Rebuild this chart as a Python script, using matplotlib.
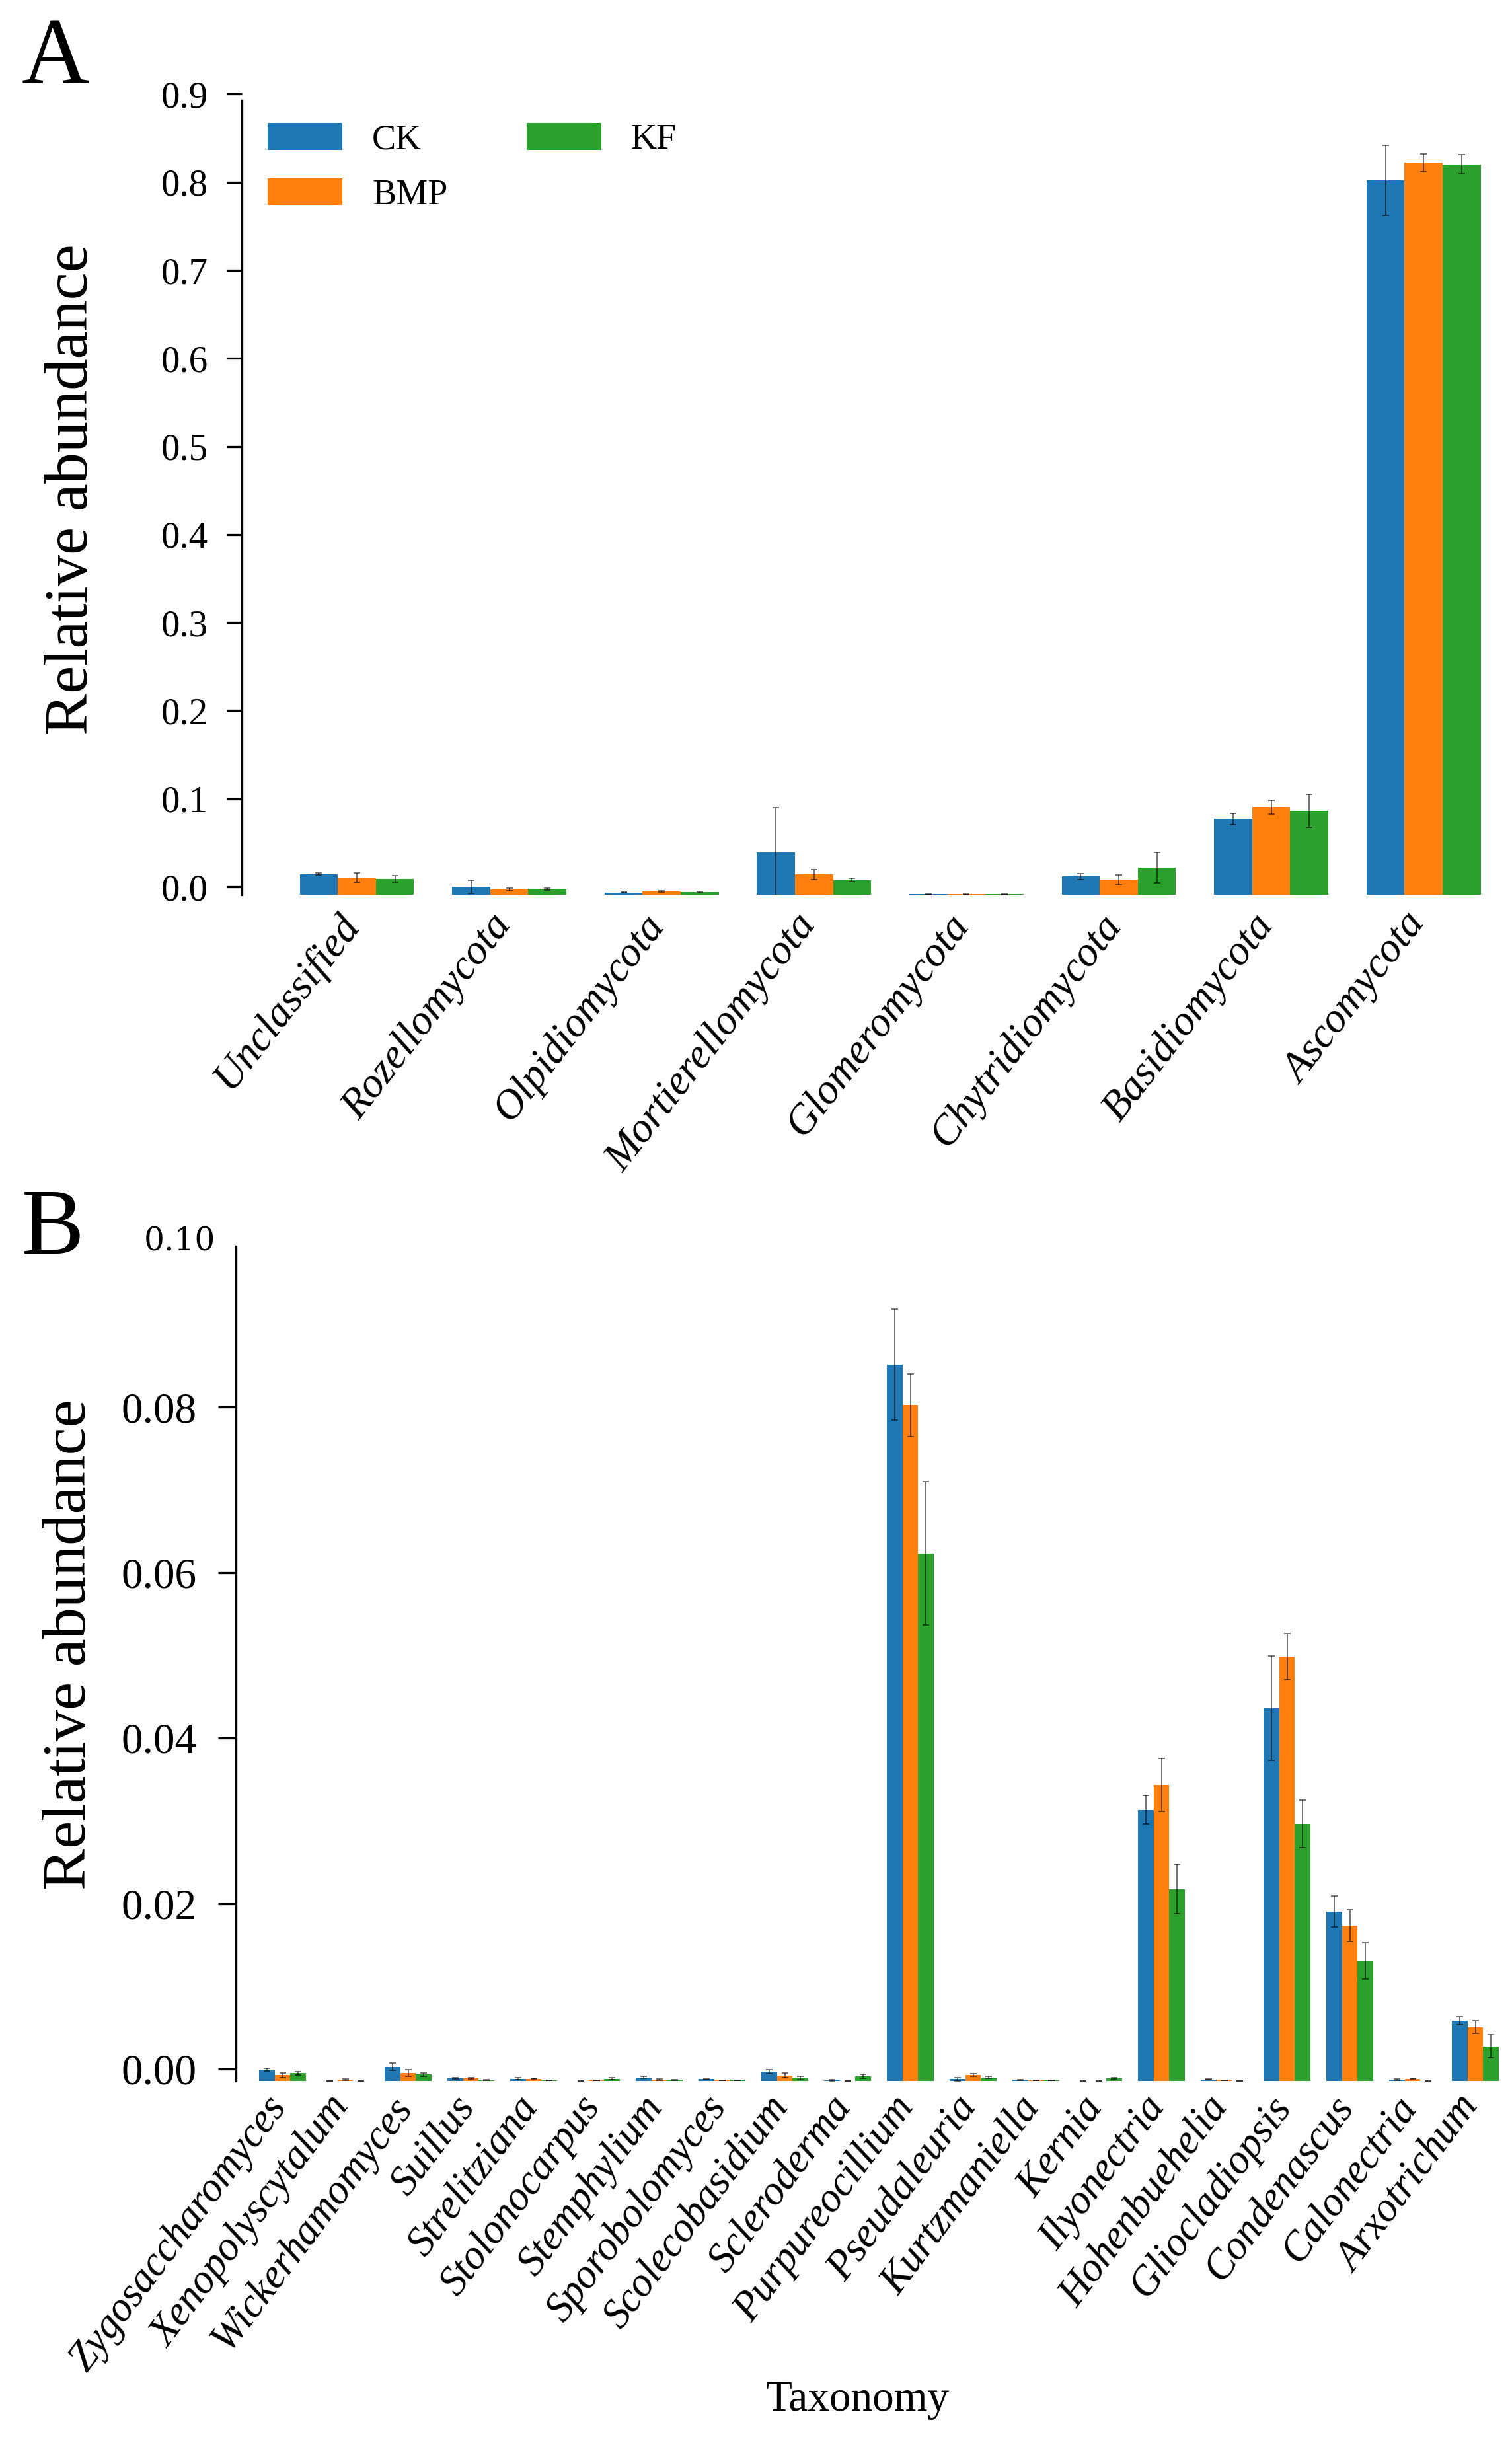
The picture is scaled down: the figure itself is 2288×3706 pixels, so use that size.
import numpy as np
import matplotlib
matplotlib.use("Agg")
import matplotlib.pyplot as plt
import matplotlib.transforms as mtransforms

plt.rcParams['font.family'] = ['Liberation Serif', 'DejaVu Serif']

# ---------------- data ----------------
groups = ["CK", "BMP", "KF"]
colors = ["#1f77b4", "#ff7f0e", "#2ca02c"]

phyla = ["Unclassified", "Rozellomycota", "Olpidiomycota", "Mortierellomycota",
         "Glomeromycota", "Chytridiomycota", "Basidiomycota", "Ascomycota"]
phyla_ck = [0.0235, 0.0090, 0.0025, 0.0477, 0.0005, 0.0207, 0.0860, 0.8113]
phyla_ck_err = [0.0012, 0.0075, 0.0005, 0.0510, 0.0003, 0.0031, 0.0065, 0.0397]
phyla_bmp = [0.0195, 0.0062, 0.0037, 0.0232, 0.0005, 0.0170, 0.0995, 0.8312]
phyla_bmp_err = [0.0052, 0.0015, 0.0005, 0.0056, 0.0003, 0.0056, 0.0076, 0.0102]
phyla_kf = [0.0180, 0.0065, 0.0030, 0.0167, 0.0005, 0.0308, 0.0952, 0.8293]
phyla_kf_err = [0.0038, 0.0010, 0.0005, 0.0020, 0.0003, 0.0173, 0.0188, 0.0110]
phyla_yticks = [0.0, 0.1, 0.2, 0.3, 0.4, 0.5, 0.6, 0.7, 0.8, 0.9]

genera = ["Zygosaccharomyces", "Xenopolyscytalum", "Wickerhamomyces", "Suillus",
          "Strelitziana", "Stolonocarpus", "Stemphylium", "Sporobolomyces",
          "Scolecobasidium", "Scleroderma", "Purpureocillium", "Pseudaleuria",
          "Kurtzmaniella", "Kernia", "Ilyonectria", "Hohenbuehelia",
          "Gliocladiopsis", "Condenascus", "Calonectria", "Arxotrichum"]
genera_ck = [0.00140, 0.00003, 0.00173, 0.00034, 0.00029, 0.00003, 0.00045, 0.00024,
             0.00114, 0.00010, 0.0866, 0.00024, 0.00015, 0.00003, 0.0328, 0.00020,
             0.0451, 0.0205, 0.00020, 0.0073]
genera_ck_err = [0.00015, 0.00003, 0.00045, 0.00010, 0.00010, 0.00002, 0.00010, 0.00005,
                 0.00025, 0.00010, 0.0067, 0.00020, 0.00005, 0.00002, 0.0017, 0.00005,
                 0.0063, 0.0019, 0.00008, 0.00045]
genera_bmp = [0.00072, 0.00018, 0.00096, 0.00034, 0.00029, 0.00010, 0.00018, 0.00010,
              0.00069, 0.00002, 0.0817, 0.00074, 0.00010, 0.00002, 0.0358, 0.00010,
              0.0513, 0.0188, 0.00029, 0.0065]
genera_bmp_err = [0.00030, 0.00005, 0.00040, 0.00005, 0.00005, 0.00003, 0.00005, 0.00003,
                  0.00030, 0.00001, 0.0038, 0.00013, 0.00003, 0.00001, 0.0032, 0.00003,
                  0.0028, 0.0019, 0.00005, 0.00076]
genera_kf = [0.00096, 0.00003, 0.00080, 0.00013, 0.00010, 0.00029, 0.00015, 0.00010,
             0.00040, 0.00056, 0.0638, 0.00045, 0.00010, 0.00034, 0.0232, 0.00003,
             0.0311, 0.0145, 0.00002, 0.0042]
genera_kf_err = [0.00020, 0.00002, 0.00020, 0.00003, 0.00003, 0.00010, 0.00003, 0.00003,
                 0.00020, 0.00025, 0.0087, 0.00010, 0.00003, 0.00010, 0.0030, 0.00002,
                 0.0029, 0.0022, 0.00001, 0.0014]
genera_yticks = [0.00, 0.02, 0.04, 0.06, 0.08]
genera_top_label = "0.10"

# ---------------- layout (pixels) ----------------
W, H = 2288, 3706
DPI = 100
fig = plt.figure(figsize=(W / DPI, H / DPI), dpi=DPI)


def px_axes(left, right, top, bottom):
    return fig.add_axes([left / W, 1 - bottom / H, (right - left) / W, (bottom - top) / H])


def draw_panel(ax, cats, vals, errs, width=0.25, label_rot=50, label_size=49,
               label_pad=22, label_shift=(0, 0)):
    x = np.arange(len(cats))
    offs = [-width, 0.0, width]
    handles = []
    for v, e, c, o, g in zip(vals, errs, colors, offs, groups):
        b = ax.bar(x + o, v, width=width, color=c, label=g, yerr=e,
                   error_kw=dict(ecolor="black", elinewidth=1.4, capsize=3.5,
                                 capthick=1.4, alpha=0.55))
        handles.append(b)
    ax.set_xticks(x)
    ax.set_xticklabels(cats, rotation=label_rot, ha="right", va="top",
                       rotation_mode="anchor", fontstyle="italic", fontsize=label_size)
    ax.tick_params(axis="x", length=0, pad=label_pad)
    off = mtransforms.ScaledTranslation(label_shift[0] / DPI, label_shift[1] / DPI,
                                        fig.dpi_scale_trans)
    for lab in ax.get_xticklabels():
        lab.set_transform(lab.get_transform() + off)
    for s in ["top", "right", "bottom"]:
        ax.spines[s].set_visible(False)
    ax.spines["left"].set_linewidth(2.4)
    return handles


# ---------- Panel A ----------
A_top_lim = 0.915
A_shift = 0.009
axA = px_axes(365.5, 2262, 1354 - A_top_lim * 1332.8, 1354)
hA = draw_panel(axA, phyla,
                [phyla_ck, phyla_bmp, phyla_kf],
                [phyla_ck_err, phyla_bmp_err, phyla_kf_err],
                label_rot=52, label_size=46, label_pad=16, label_shift=(-30, 4))
axA.set_xlim((365.5 - 540) / 230.6, (2262 - 540) / 230.6)
axA.set_ylim(0, A_top_lim)
axA.spines["left"].set_bounds(0, 0.902)
axA.set_yticks([t + A_shift for t in phyla_yticks])
axA.set_yticklabels([f"{t:.1f}" for t in phyla_yticks], fontsize=41)
axA.tick_params(axis="y", length=16.5, width=2.4, pad=20)
axA.legend(handles=hA, labels=groups, ncol=2, loc="upper left",
           bbox_to_anchor=(405 / W, 1 - 186 / H), bbox_transform=fig.transFigure,
           frameon=False, fontsize=39, handlelength=2.09, handleheight=0.78,
           handletextpad=0.83, columnspacing=2.2, labelspacing=0.6,
           borderpad=0, borderaxespad=0)

fig.text(110 / W, 1 - 741 / H, "Relative abundance", rotation=90,
         ha="center", va="center", fontsize=68)
fig.text(33 / W, 1 - 125 / H, "A", fontsize=102, ha="left", va="baseline")

# ---------- Panel B ----------
B_top_lim = 0.1025
B_shift = 0.00146
axB = px_axes(356.7, 2275, 3149.3 - B_top_lim * 12520, 3149.3)
hB = draw_panel(axB, genera,
                [genera_ck, genera_bmp, genera_kf],
                [genera_ck_err, genera_bmp_err, genera_kf_err],
                label_rot=53, label_size=45, label_pad=12, label_shift=(-28, 4))
axB.set_xlim((356.7 - 427.5) / 95.0, (2275 - 427.5) / 95.0)
axB.set_ylim(0, B_top_lim)
axB.spines["left"].set_bounds(0, 0.1009)
axB.set_yticks([t + B_shift for t in genera_yticks])
axB.set_yticklabels([f"{t:.2f}" for t in genera_yticks], fontsize=47)
axB.tick_params(axis="y", length=19.5, width=2.4, pad=23)
tB = mtransforms.blended_transform_factory(axB.transAxes, axB.transData)
axB.text(-0.016, float(genera_top_label) + B_shift, genera_top_label, transform=tB,
         ha="right", va="center", fontsize=35, family="DejaVu Serif")

fig.text(107 / W, 1 - 2489 / H, "Relative abundance", rotation=90,
         ha="center", va="center", fontsize=68)
fig.text(33 / W, 1 - 1897 / H, "B", fontsize=102, ha="left", va="baseline")
fig.text(1298 / W, 1 - 3632 / H, "Taxonomy", ha="center", va="center", fontsize=47)

fig.savefig("out.png", dpi=DPI, facecolor="white")
